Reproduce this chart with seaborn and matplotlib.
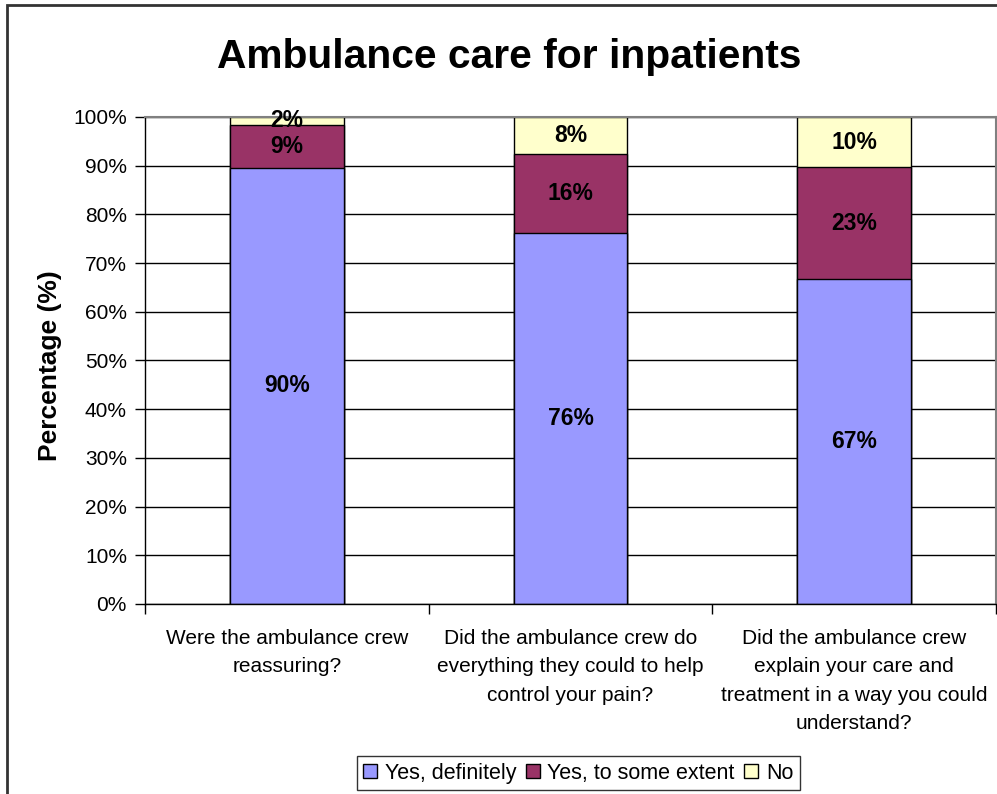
import pandas as pd
import seaborn as sns
import matplotlib.pyplot as plt
from matplotlib.patches import Patch, Rectangle

# questions on the x axis
questions = [
    "Were the ambulance crew\nreassuring?",
    "Did the ambulance crew do\neverything they could to help\ncontrol your pain?",
    "Did the ambulance crew\nexplain your care and\ntreatment in a way you could\nunderstand?",
]

# answer shares (%)
yes_definitely = [89.6, 76.2, 66.7]
yes_some_extent = [8.8, 16.2, 23.0]
no_answer = [1.6, 7.6, 10.3]

series_names = ["Yes, definitely", "Yes, to some extent", "No"]
colors = ["#9999FF", "#993366", "#FFFFCC"]

df = pd.DataFrame({
    "question": questions,
    "Yes, definitely": yes_definitely,
    "Yes, to some extent": yes_some_extent,
    "No": no_answer,
})

# cumulative tops for stacking
cum = df[series_names].cumsum(axis=1)
cum["question"] = df["question"]

sns.set_style("white")
plt.rcParams["font.family"] = ["Liberation Sans", "DejaVu Sans"]
plt.rcParams["text.color"] = "black"
plt.rcParams["axes.labelcolor"] = "black"
plt.rcParams["xtick.color"] = "black"
plt.rcParams["ytick.color"] = "black"

fig = plt.figure(figsize=(9.97, 7.94), dpi=100)
ax = fig.add_axes([0.1454, 0.2393, 0.8536, 0.6134])

# draw from the top segment down so each layer covers the one behind
for name, col in reversed(list(zip(series_names, colors))):
    sns.barplot(data=cum, x="question", y=name, color=col, width=0.4,
                edgecolor="black", linewidth=1, saturation=1, ax=ax)

# segment labels
for i in range(len(questions)):
    bottom = 0
    for name in series_names:
        v = df.loc[i, name]
        ax.text(i, bottom + v / 2, f"{round(v)}%", ha="center", va="center",
                fontsize=16.5, fontweight="bold", color="black")
        bottom += v

ax.set_ylim(0, 100)
ax.set_xlim(-0.5, 2.5)
ax.set_yticks(range(0, 101, 10))
ax.set_yticklabels([f"{t}%" for t in range(0, 101, 10)], fontsize=15)
ax.yaxis.grid(True, color="black", linewidth=1)
ax.set_axisbelow(True)

# boundaries as major ticks, names as minor ticks
ax.set_xticks([-0.5, 0.5, 1.5, 2.5])
ax.set_xticklabels([])
ax.set_xticks([0, 1, 2], questions, minor=True)
ax.tick_params(axis="x", which="minor", length=0, pad=18, labelsize=15)
ax.tick_params(axis="x", which="major", direction="out", length=7, width=1,
               color="black", bottom=True)
ax.tick_params(axis="y", direction="out", length=7, width=1, color="black",
               left=True, pad=6)
for lbl in ax.get_xticklabels(minor=True):
    lbl.set_linespacing(1.62)

ax.set_xlabel("")
ax.set_ylabel("Percentage (%)", fontsize=19, fontweight="bold")
ax.yaxis.set_label_coords(-0.097, 0.49)

for side in ["left", "bottom"]:
    ax.spines[side].set_color("black")
    ax.spines[side].set_linewidth(1)
for side in ["top", "right"]:
    ax.spines[side].set_color("#808080")
    ax.spines[side].set_linewidth(1.5)

fig.text(0.5105, 1 - 57 / 794, "Ambulance care for inpatients",
         ha="center", va="center", fontsize=29.3, fontweight="bold")

handles = [Patch(facecolor=c, edgecolor="black", linewidth=1) for c in colors]
fig.legend(handles, series_names, loc="center", bbox_to_anchor=(0.58, 0.0264),
           ncol=3, fontsize=15.5, frameon=True, fancybox=False, edgecolor="black",
           handlelength=0.65, handleheight=0.65, handletextpad=0.35,
           columnspacing=0.45, borderpad=0.3, borderaxespad=0)

# chart area border
fig.patches.append(Rectangle((7 / 997, -0.1), 1.2, 1.1 - 5 / 794,
                             transform=fig.transFigure, fill=False,
                             edgecolor="#333333", linewidth=2, zorder=-1))

fig.savefig("out.png", dpi=100)
